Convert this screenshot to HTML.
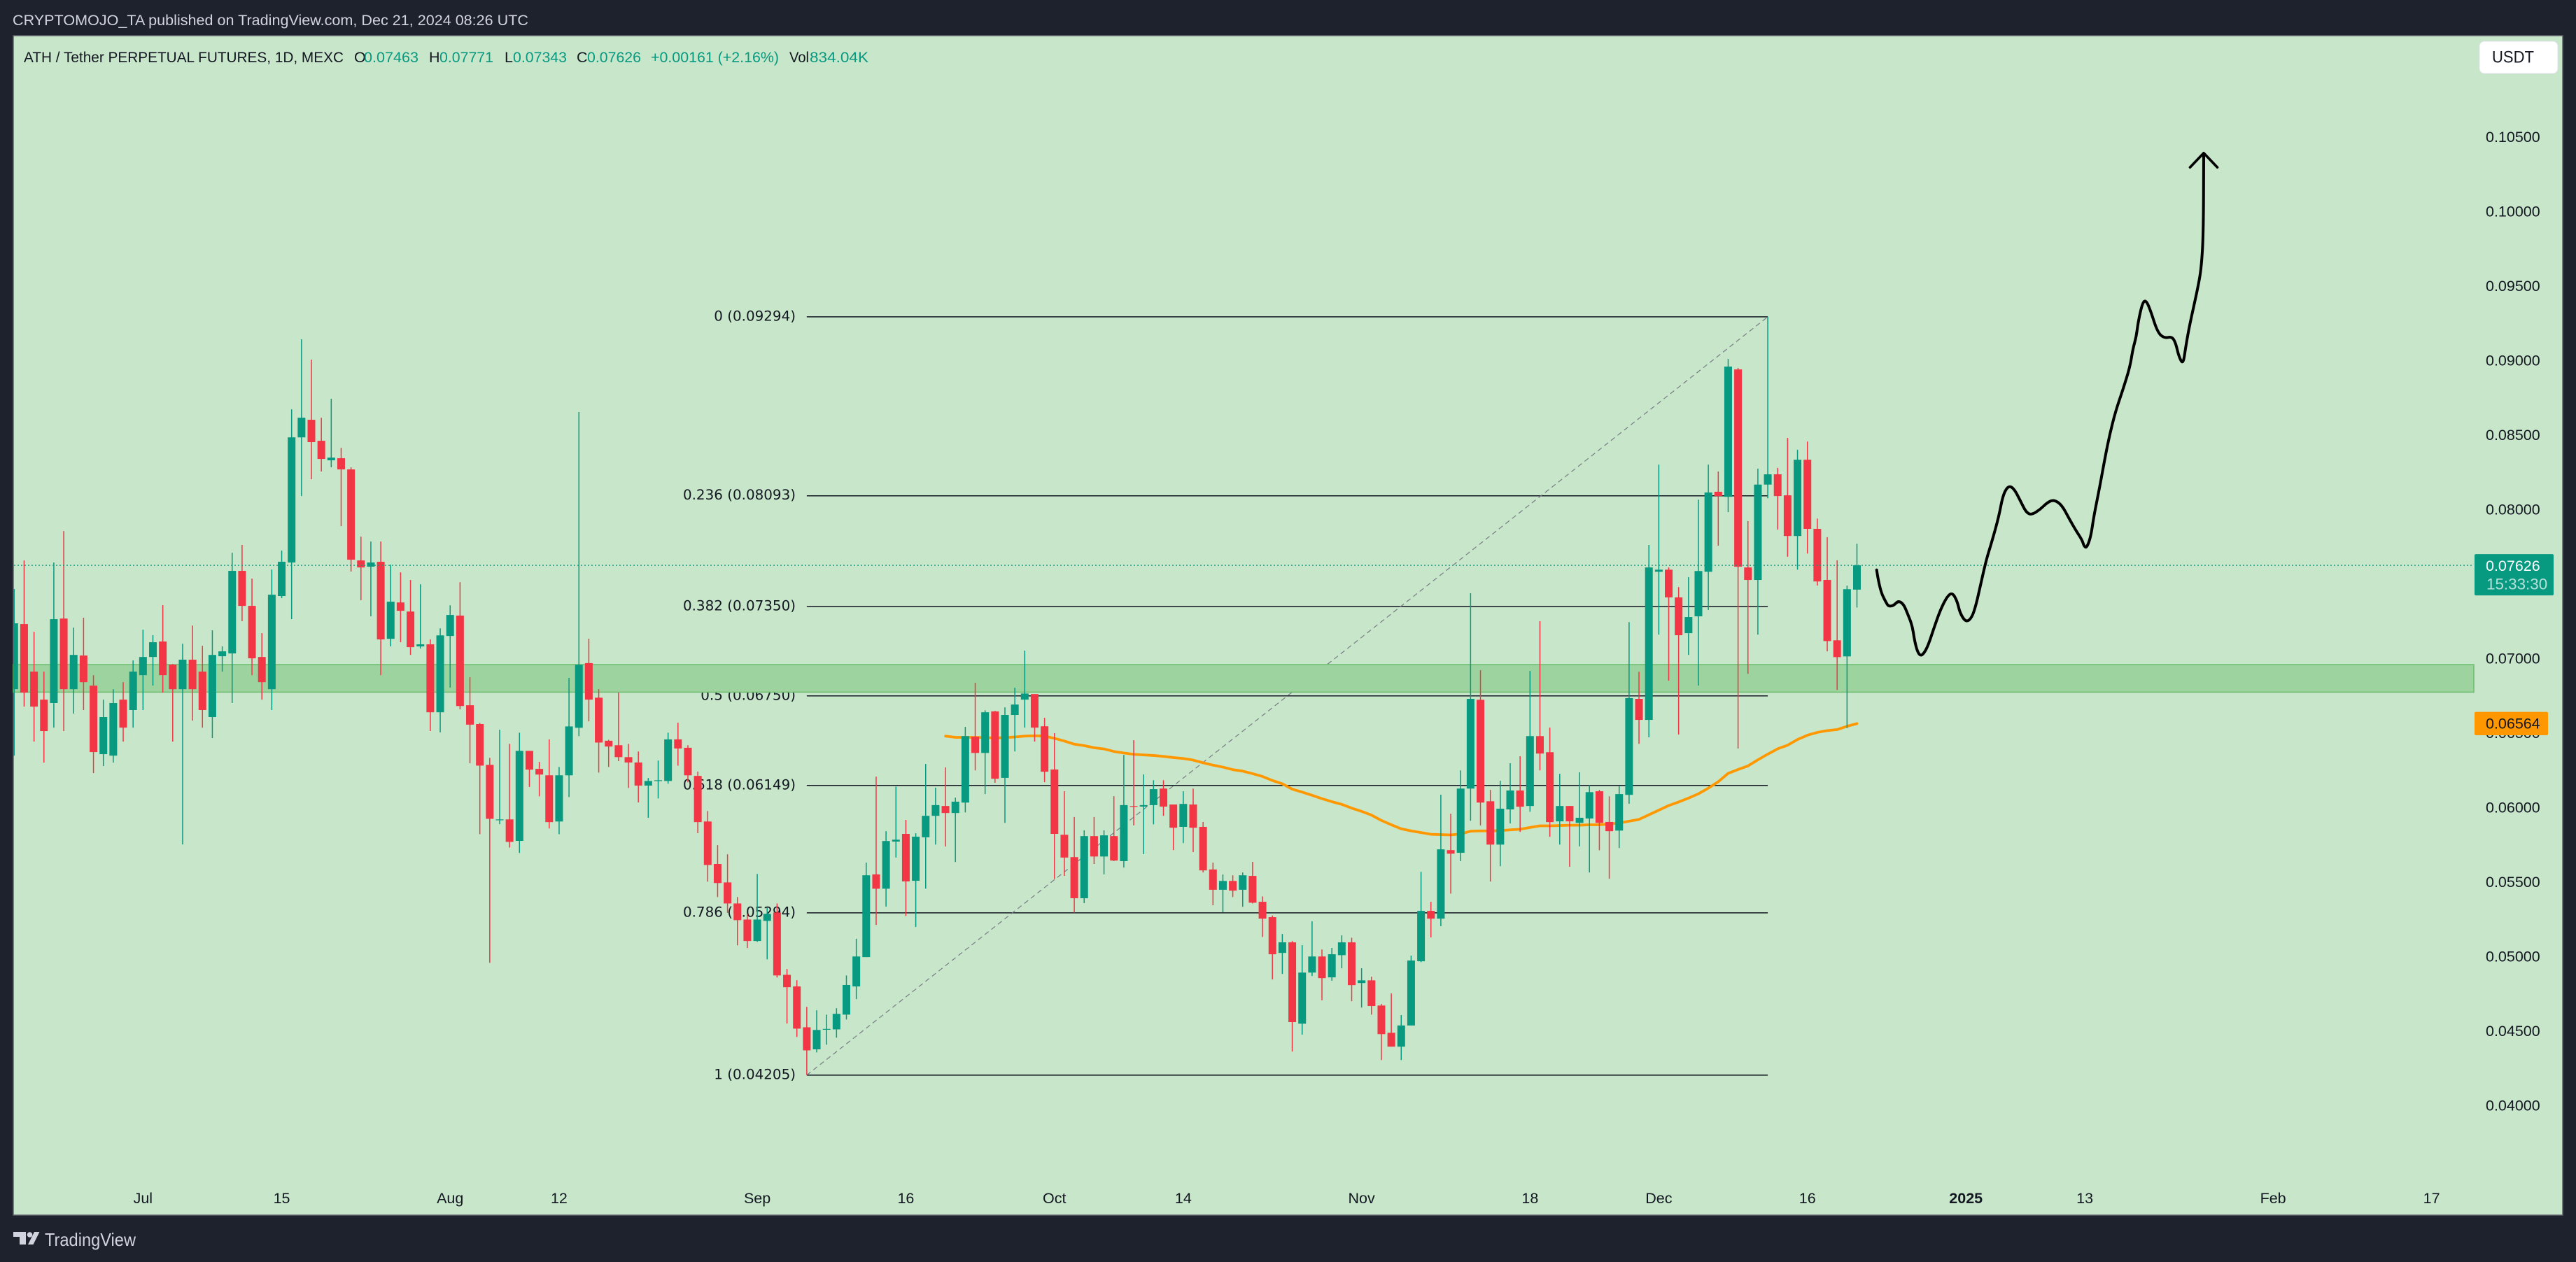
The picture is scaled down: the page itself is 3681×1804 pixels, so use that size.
<!DOCTYPE html>
<html lang="en">
<head>
<meta charset="utf-8">
<title>ATH / Tether Perpetual Futures chart</title>
<style>
  html, body { margin: 0; padding: 0; background: #1e222d; }
  body { width: 3681px; height: 1804px; overflow: hidden; }
  svg { display: block; }
  text { font-family: "Liberation Sans", sans-serif; }
  .fib { font-family: "DejaVu Sans", "Liberation Sans", sans-serif; font-size: 19.9px; fill: #131722; text-anchor: end; dominant-baseline: central; }
  .tick { font-size: 21.5px; fill: #131722; dominant-baseline: central; }
  .lg { font-size: 21.5px; dominant-baseline: central; }
</style>
</head>
<body>
<svg id="chart" width="3681" height="1804" viewBox="0 0 3681 1804" xmlns="http://www.w3.org/2000/svg">
  <defs>
    <clipPath id="paneClip"><rect x="19" y="51" width="3643" height="1686"/></clipPath>
  </defs>
  <rect x="0" y="0" width="3681" height="1804" fill="#1e222d"/>
  <text x="18" y="29" class="lg" fill="#d1d4dc" textLength="737" lengthAdjust="spacingAndGlyphs">CRYPTOMOJO_TA published on TradingView.com, Dec 21, 2024 08:26 UTC</text>
  <rect x="19" y="51" width="3643" height="1686" fill="#c8e6c9" stroke="#5d606b" stroke-width="1.5"/>
  <g id="fibLayer" clip-path="url(#paneClip)"></g>
  <rect id="zone" x="19" width="3516" fill="#9dd39e" stroke="#6cbd6f" stroke-width="1.5"/>
  <g id="maLayer" clip-path="url(#paneClip)"></g>
  <g id="candleLayer" clip-path="url(#paneClip)"></g>
  <g id="lastLayer"></g>
  <g id="brushLayer"></g>
  <g id="yAxisLayer"></g>
  <g id="xAxisLayer"></g>

  <g>
    <text x="34" y="82" class="lg" fill="#131722" textLength="457" lengthAdjust="spacingAndGlyphs">ATH / Tether PERPETUAL FUTURES, 1D, MEXC</text>
    <text x="506" y="82" class="lg" fill="#131722">O</text>
    <text x="520" y="82" class="lg" fill="#089981" textLength="78" lengthAdjust="spacingAndGlyphs">0.07463</text>
    <text x="613" y="82" class="lg" fill="#131722">H</text>
    <text x="628" y="82" class="lg" fill="#089981" textLength="77" lengthAdjust="spacingAndGlyphs">0.07771</text>
    <text x="721" y="82" class="lg" fill="#131722">L</text>
    <text x="733" y="82" class="lg" fill="#089981" textLength="77" lengthAdjust="spacingAndGlyphs">0.07343</text>
    <text x="824" y="82" class="lg" fill="#131722">C</text>
    <text x="839" y="82" class="lg" fill="#089981" textLength="77" lengthAdjust="spacingAndGlyphs">0.07626</text>
    <text x="930" y="82" class="lg" fill="#089981" textLength="183" lengthAdjust="spacingAndGlyphs">+0.00161 (+2.16%)</text>
    <text x="1128" y="82" class="lg" fill="#131722" textLength="28" lengthAdjust="spacingAndGlyphs">Vol</text>
    <text x="1157" y="82" class="lg" fill="#089981" textLength="84" lengthAdjust="spacingAndGlyphs">834.04K</text>
  </g>

  <g>
    <rect x="3543" y="59" width="112" height="46" rx="7" fill="#ffffff" stroke="#e0e3eb" stroke-width="1"/>
    <text x="3561" y="82" font-size="24" fill="#131722" dominant-baseline="central" textLength="60" lengthAdjust="spacingAndGlyphs">USDT</text>
  </g>

  <g>
    <path d="M19 1761H37V1779H28V1768H19Z" fill="#d1d4dc"/>
    <circle cx="42.5" cy="1765" r="3.8" fill="#d1d4dc"/>
    <path d="M49 1761H56.5L47.5 1779H40Z" fill="#d1d4dc"/>
    <text x="64" y="1772" font-size="26" fill="#d1d4dc" dominant-baseline="central" textLength="130" lengthAdjust="spacingAndGlyphs">TradingView</text>
  </g>
</svg>

<script>
// Prices are in units of 0.00001 USDT, one entry per daily bar.
const opens = [6795,7232,6913,6725,6702,7269,6795,7021,6819,6359,
6349,6725,6655,6889,7011,7115,6960,6795,6993,6913,
6608,7016,7035,7589,7354,7011,6795,7420,7645,8485,
8603,8462,8331,8345,8270,7659,7617,7650,7133,7377,
7316,7082,7096,6640,7152,7289,6687,6561,6287,5916,
5921,5777,6381,6260,6217,5907,6217,6536,6970,6738,
6449,6419,6339,6303,6148,6179,6179,6458,6402,6213,
5907,5622,5498,5357,5249,5105,5240,5296,4878,4800,
4526,4378,4512,4512,4611,4800,4997,5552,5456,5772,
5824,5509,5801,5945,6011,5964,6034,6476,6367,6646,
6200,6622,6725,6762,6546,6256,5818,5668,5392,5809,
5672,5809,5641,6011,6007,6017,6128,6021,5871,6021,
5871,5585,5449,5508,5449,5542,5368,5265,5025,5096,
4550,4893,5001,4861,5010,5096,4823,4841,4672,4489,
4396,4538,4969,5307,5255,5715,5697,6128,6724,6043,
5752,5988,6115,6011,6480,6372,5908,6011,5898,5927,
6110,5904,5846,6086,6730,6589,7583,7597,7411,7171,
7284,7583,8120,8086,8941,7612,7528,8168,8237,8096,
7823,8335,7871,7528,7123,7015,7463];
const highs = [7467,7659,7180,6913,7645,7856,7208,7274,6889,6725,
6795,6842,6988,7194,7157,7359,6964,7100,7222,7086,
7190,7082,7711,7763,7537,7171,7598,7725,8673,9143,
9007,8617,8744,8415,8284,7819,7786,7786,7631,7579,
7528,7499,7129,7203,7358,7513,6875,6568,6334,6523,
6428,6503,6381,6307,6458,6273,6871,8655,7134,6795,
6455,6772,6428,6377,6199,6316,6503,6570,6419,6242,
5977,5748,5687,5400,5287,5555,5328,5357,4917,4842,
4663,4640,4611,4654,4874,5120,5631,6208,5842,6141,
5918,5828,6293,6134,6270,6067,6542,6838,6653,6649,
6673,6805,7054,6762,6603,6500,6110,5937,5848,5937,
5848,6077,6354,6453,6223,6184,6184,6021,6110,6128,
5904,5631,5551,5546,5565,5636,5404,5276,5152,5105,
5077,5237,5048,5059,5143,5127,4922,4865,4683,4753,
4608,5007,5569,5368,6087,5959,6250,7439,6922,6119,
6180,6298,6345,6917,7251,6537,6227,6011,6237,6151,
6119,6076,6148,7245,6912,7763,8302,7612,7480,7547,
8067,8302,8256,9011,8951,7923,8275,9294,8280,8481,
8402,8457,7940,7815,7660,7490,7771];
const lows = [6349,6678,6443,6302,6537,6514,6631,6655,6232,6279,
6302,6443,6537,6655,6819,6772,6443,5753,6584,6537,
6467,6913,6702,7251,6889,6725,6655,7406,7265,8091,
8204,8256,8284,7889,7584,7392,7284,6889,7082,7110,
7025,7068,6514,6505,6806,6660,6298,5822,4959,5889,
5732,5696,6139,6076,5860,5822,6071,6480,6579,6235,
6273,6312,6132,6035,5932,6062,6161,6282,6170,5829,
5503,5400,5294,5076,5058,5099,4982,4860,4551,4461,
4205,4357,4409,4456,4578,4715,4997,5213,5336,5665,
5273,5199,5456,5752,5739,5635,5968,6250,6091,6167,
5898,6377,6537,6443,6171,5521,5542,5295,5359,5622,
5552,5641,5598,5881,5688,5888,5945,5715,5762,5702,
5565,5345,5298,5400,5335,5357,5132,4847,4884,4363,
4477,4870,4707,4838,4922,4701,4658,4611,4306,4396,
4306,4538,4963,5129,5204,5423,5641,5912,5880,5504,
5607,5894,5837,5973,6250,5804,5752,5603,5740,5565,
5714,5523,5729,6026,6428,6472,7161,6852,6491,7025,
6819,7327,7758,7983,6397,6898,7161,8076,7866,7684,
7597,7705,7490,7049,6790,6534,7343];
const closes = [7237,6772,6678,6514,7265,6795,7025,6842,6373,6608,
6702,6537,6913,7011,7110,6889,6795,6993,6795,6655,
7025,7049,7589,7354,7002,6842,7429,7650,8485,8617,
8453,8340,8349,8270,7664,7612,7645,7129,7382,7321,
7077,7096,6640,7156,7293,6682,6557,6282,5925,5921,
5770,6381,6255,6222,5903,6217,6545,6959,6725,6437,
6410,6339,6303,6148,6179,6184,6458,6397,6217,5903,
5615,5494,5357,5245,5105,5249,5287,4874,4795,4517,
4371,4508,4515,4616,4810,5001,5546,5456,5776,5785,
5505,5805,5945,6017,5964,6040,6480,6367,6640,6194,
6622,6692,6766,6537,6241,5824,5665,5392,5809,5672,
5814,5645,6017,6009,6017,6124,6007,5865,6025,5865,
5579,5449,5508,5443,5546,5362,5255,5016,5096,4561,
4893,5001,4856,5016,5096,4809,4841,4669,4480,4396,
4538,4974,5307,5255,5720,5691,6128,6730,6034,5752,
5993,6115,6006,6480,6363,5903,6011,5908,5932,6104,
5898,5842,6091,6735,6589,7612,7597,7411,7157,7279,
7588,8115,8091,8960,7617,7528,8168,8237,8091,7823,
8335,7871,7518,7118,7010,7466,7626];

// Moving average, starting at bar 94.
const maStartBar = 94;
const maValues = [6480,6472,6472,6472,6470,6468,6470,6474,6480,6482,
6480,6465,6447,6426,6416,6402,6394,6377,6367,6358,
6354,6350,6344,6336,6330,6319,6301,6285,6272,6255,
6245,6228,6209,6182,6160,6124,6104,6083,6060,6040,
6022,5997,5975,5950,5914,5885,5858,5844,5833,5821,
5819,5817,5824,5842,5844,5844,5846,5851,5855,5867,
5878,5878,5880,5882,5882,5885,5885,5890,5897,5909,
5921,5952,5983,6014,6038,6064,6093,6131,6174,6230,
6256,6280,6321,6359,6395,6419,6457,6486,6505,6517,
6524,6546,6564];

// Fibonacci retracement
const fibRatios = ["0","0.236","0.382","0.5","0.618","0.786","1"];
const fibPrices = [9294,8093,7350,6750,6149,5294,4205];
const fibStartBar = 80;
const fibEndBar = 177;

// Support zone (price bounds)
const zoneTop = 6960;
const zoneBottom = 6775;

// Price axis
const priceTicks = [10500,10000,9500,9000,8500,8000,7500,7000,6500,6000,5500,5000,4500,4000];
const lastPrice = 7626;
const maLastPrice = 6564;

// Time axis
const timeLabels = ["Jul","15","Aug","12","Sep","16","Oct","14","Nov","18","Dec","16","2025","13","Feb","17"];
const timeBars = [13,27,44,55,75,90,105,118,136,153,166,181,197,209,228,244];

// Hand-drawn projection (bar position, price)
const brushBars = [187.99,188.28,189.02,189.25,189.69,190.19,190.71,191.09,191.59,191.80,192.09,192.41,192.76,193.20,193.79,194.43,195.11,195.63,196.13,196.40,197.01,197.60,198.04,198.48,199.06,199.56,200.32,200.73,201.26,201.84,202.58,203.07,203.60,204.48,205.21,205.89,206.68,207.41,208.14,208.73,208.93,209.20,209.61,209.90,210.48,211.07,211.51,212.10,212.83,213.56,213.85,214.20,214.38,214.82,215.17,215.61,216.34,217.02,217.81,218.19,218.48,218.92,219.18,219.56,220.44,220.77,220.97,221.00];
const brushPrices = [7595,7466,7365,7351,7356,7389,7365,7305,7221,7126,7049,7018,7035,7090,7209,7329,7418,7444,7384,7305,7243,7274,7365,7497,7665,7772,7952,8096,8160,8144,8048,7983,7964,8000,8048,8067,8031,7940,7856,7796,7753,7744,7820,7952,8144,8359,8503,8659,8802,8958,9078,9162,9258,9389,9406,9341,9190,9150,9162,9114,9030,8972,9090,9234,9497,9629,9856,10388];
const arrowBars = [219.62,221.0,222.38];
const arrowPrices = [10297,10393,10297];

// Axis functions
function xOf(bar) { return 20.3 + 14.157 * bar; }
function yOf(price) { return 196 + (10500 - price) * 0.213; }
function fmt(price) { return (price / 100000).toFixed(5); }

const NS = 'http://www.w3.org/2000/svg';
function mk(tag, parent) {
  const el = document.createElementNS(NS, tag);
  parent.appendChild(el);
  return el;
}
function geo(el, props) {
  for (const k in props) el.setAttribute(k, props[k]);
  return el;
}

// Support zone
const zoneEl = document.getElementById('zone');
geo(zoneEl, { y: yOf(zoneTop), height: yOf(zoneBottom) - yOf(zoneTop) });

// Fibonacci levels
const fibLayer = document.getElementById('fibLayer');
const fibX0 = xOf(fibStartBar);
const fibX1 = xOf(fibEndBar);
fibPrices.forEach(function (price, i) {
  const line = mk('line', fibLayer);
  
  
  geo(line, { x1: fibX0, x2: fibX1, y1: yOf(price), y2: yOf(price), stroke: '#131722', 'stroke-width': 1.5 });
  const label = mk('text', fibLayer);
  
  
  label.setAttribute('class', 'fib');
  geo(label, { x: 1137, y: yOf(price) - 1 });
  label.textContent = fibRatios[i] + ' (' + fmt(price) + ')';
});
const fibTrend = mk('line', fibLayer);


geo(fibTrend, { x1: fibX0, y1: yOf(fibPrices[6]), x2: fibX1, y2: yOf(fibPrices[0]), stroke: '#787b86', 'stroke-width': 1.2, 'stroke-dasharray': '7 5' });

// Moving average
const maLayer = document.getElementById('maLayer');
const maLine = mk('polyline', maLayer);


geo(maLine, {
  points: maValues.map(function (v, i) { return xOf(maStartBar + i) + ',' + yOf(v); }).join(' '),
  fill: 'none', stroke: '#ff9800', 'stroke-width': 3.8, 'stroke-linejoin': 'round', 'stroke-linecap': 'round'
});

// Candles
const candleLayer = document.getElementById('candleLayer');
opens.forEach(function (open, i) {
  const close = closes[i];
  const color = close >= open ? '#089981' : '#f23645';
  const cx = xOf(i);
  const g = mk('g', candleLayer);
  
  
  const wick = mk('rect', g);
  
  
  geo(wick, { x: cx - 0.75, width: 1.5, y: yOf(highs[i]), height: Math.max(1, yOf(lows[i]) - yOf(highs[i])), fill: color });
  const topY = yOf(Math.max(open, close));
  const botY = yOf(Math.min(open, close));
  const body = mk('rect', g);
  
  
  geo(body, { x: cx - 5.5, width: 11, y: topY, height: Math.max(1.2, botY - topY), fill: color });
});

// Last price line
const lastLayer = document.getElementById('lastLayer');
const lastLine = mk('line', lastLayer);


geo(lastLine, { x1: 20, x2: 3534, y1: yOf(lastPrice), y2: yOf(lastPrice), stroke: '#089981', 'stroke-width': 1.2, 'stroke-dasharray': '2 3' });

// Hand-drawn projection, smoothed through segment midpoints
const brushLayer = document.getElementById('brushLayer');
const brushPath = mk('path', brushLayer);


let brushD = 'M' + xOf(brushBars[0]) + ' ' + yOf(brushPrices[0]);
for (let i = 1; i < brushBars.length - 1; i++) {
  const px = xOf(brushBars[i]);
  const py = yOf(brushPrices[i]);
  const mx = (px + xOf(brushBars[i + 1])) / 2;
  const my = (py + yOf(brushPrices[i + 1])) / 2;
  brushD += ' Q' + px + ' ' + py + ' ' + mx + ' ' + my;
}
brushD += ' L' + xOf(brushBars[brushBars.length - 1]) + ' ' + yOf(brushPrices[brushPrices.length - 1]);
geo(brushPath, { d: brushD, fill: 'none', stroke: '#000', 'stroke-width': 4, 'stroke-linejoin': 'round', 'stroke-linecap': 'round' });
const arrowHead = mk('polyline', brushLayer);


geo(arrowHead, {
  points: arrowBars.map(function (b, i) { return xOf(b) + ',' + yOf(arrowPrices[i]); }).join(' '),
  fill: 'none', stroke: '#000', 'stroke-width': 3.6, 'stroke-linejoin': 'round', 'stroke-linecap': 'round'
});

// Price axis
const yAxisLayer = document.getElementById('yAxisLayer');
priceTicks.forEach(function (p) {
  const t = mk('text', yAxisLayer);
  
  
  t.setAttribute('class', 'tick');
  geo(t, { x: 3552, y: yOf(p) });
  t.textContent = fmt(p);
});

const maTag = mk('rect', yAxisLayer);


geo(maTag, { x: 3536, y: yOf(maLastPrice) - 16.7, width: 105, height: 33.3, rx: 2, fill: '#ff9800' });
const maTagText = mk('text', yAxisLayer);


maTagText.setAttribute('class', 'tick');
geo(maTagText, { x: 3552, y: yOf(maLastPrice) });
maTagText.textContent = fmt(maLastPrice);

const lastTag = mk('rect', yAxisLayer);


geo(lastTag, { x: 3536, y: yOf(lastPrice) - 16, width: 113, height: 59, rx: 2, fill: '#089981' });
const lastTagText = mk('text', yAxisLayer);


lastTagText.setAttribute('class', 'tick');
geo(lastTagText, { x: 3552, y: yOf(lastPrice) + 1, style: 'fill:#ffffff' });
lastTagText.textContent = fmt(lastPrice);
const countdown = mk('text', yAxisLayer);


countdown.setAttribute('class', 'tick');
geo(countdown, { x: 3553, y: yOf(lastPrice) + 27, style: 'fill:#ffffff;fill-opacity:.7;font-size:22.4px' });
countdown.textContent = '15:33:30';

// Time axis
const xAxisLayer = document.getElementById('xAxisLayer');
timeLabels.forEach(function (lab, i) {
  const t = mk('text', xAxisLayer);
  
  
  t.setAttribute('class', 'tick');
  geo(t, { x: xOf(timeBars[i]), y: 1713, 'text-anchor': 'middle' });
  if (lab === '2025') t.setAttribute('font-weight', 'bold');
  t.textContent = lab;
});
</script>
</body>
</html>
